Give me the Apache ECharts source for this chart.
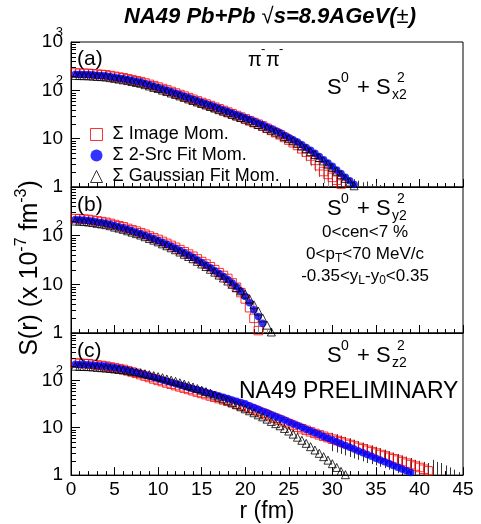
<!DOCTYPE html>
<html><head><meta charset="utf-8">
<script src="https://cdn.jsdelivr.net/npm/echarts@6/dist/echarts.min.js"></script>
<style>html,body{margin:0;padding:0;background:#fff}#c{width:481px;height:524px}</style>
</head><body><div id="c"></div>
<script>
// r bin positions (fm)
const R = [0.5,1,1.5,2,2.5,3,3.5,4,4.5,5,
5.5,6,6.5,7,7.5,8,8.5,9,9.5,10,
10.5,11,11.5,12,12.5,13,13.5,14,14.5,15,
15.5,16,16.5,17,17.5,18,18.5,19,19.5,20,
20.5,21,21.5,22,22.5,23,23.5,24,24.5,25,
25.5,26,26.5,27,27.5,28,28.5,29,29.5,30,
30.5,31,31.5,32,32.5,33,33.5,34,34.5,35,
35.5,36,36.5,37,37.5,38,38.5,39,39.5,40,
40.5,41,41.5,42,42.5,43,43.5,44,44.5];

const N_IMG = 'Σ Image Mom.';
const N_SRC = 'Σ 2-Src Fit Mom.';
const N_GAU = 'Σ Gaussian Fit Mom.';

// panel (a) S0 + Sx2
const A_IMG = [228,226,225,224,220,216,213,209,202,195,
188,182,174,166,158,151,142,133,125,117,
109,102,94.6,88.1,81.8,75.9,70.5,65.3,60.6,56.2,
52.2,48.4,44.8,41.5,38.4,35.5,32.7,30.2,27.9,25.7,
23.6,21.6,19.9,18.2,16.4,14.8,13.3,12.0,10.6,9.33,
8.22,7.24,6.17,5.25,4.37,3.55,2.75,2.09,1.82,1.58,
1.38,1.15];
const A_SRC = [215,214,213,212,209,206,203,200,194,187,
181,175,168,161,154,148,139,130,122,115,
107,100,93.3,87.1,81.1,75.5,70.2,65.3,60.8,56.6,
52.6,49.0,45.5,42.2,39.2,36.3,33.7,31.3,29.0,26.9,
24.8,22.8,20.9,19.3,17.5,16.0,14.5,13.2,11.8,10.6,
9.5,8.5,7.46,6.53,5.73,5.01,4.29,3.67,3.15,2.69,
2.26,1.91,1.60,1.35,1.12];
const A_GAU = [203,202,201,200,197,194,192,189,183,177,
171,165,159,152,145,140,131,123,115,109,
101,94.4,88.1,82.2,76.6,71.3,66.3,61.6,57.4,53.4,
49.7,46.3,43.0,39.8,37.0,34.3,31.8,29.4,27.4,25.4,
23.4,21.5,19.7,18.2,16.5,15.1,13.7,12.5,11.1,10.0,
9.0,8.0,7.05,6.2,5.4,4.7,4.05,3.46,2.97,2.54,
2.13,1.80,1.51,1.27,1.06];
const A_ERR = [[26,5,8.5],[26.5,4.2,7.5],[27,3.4,6.5],[27.5,2.7,5.7],[28,2.1,5],[28.5,1.6,4.3],
[29,1.2,3.7],[29.5,0.9,3.2],[30,0.7,2.8],[30.5,0.6,2.4],[31,0.5,2.0],[31.5,0.5,1.7],[32,0.5,1.5],
[32.5,0.5,1.45],[33,0.5,1.35],[33.5,0.5,1.25],[34,0.5,1.3],[34.5,0.5,1.15],[35,0.5,1.2],[35.5,0.5,1.1]];

// panel (b) S0 + Sy2
const B_IMG = [224,222,219,215,208,201,195,188,179,169,
160,152,141,132,124,115,107,98.2,90.8,83.8,
76.2,69.5,63.2,57.6,51.7,46.6,41.9,37.7,33.3,29.4,
26.1,23.0,20.0,17.4,15.2,13.2,10.7,8.71,6.76,5.01,
3.31,2.0,1.12];
const B_SRC = [214,212,209,205,199,192,186,180,171,161,
153,145,135,126,118,110,102,93.8,86.7,80.0,
72.8,66.4,60.4,55.0,49.4,44.5,40.0,36.0,31.8,28.1,
24.9,22.0,19.1,16.6,14.5,12.6,10.7,8.91,7.24,5.62,
4.17,3.02,2.19,1.58];
const B_GAU = [200,198,195,191,186,179,174,168,160,150,
143,135,126,118,110,103,95.2,87.5,80.9,74.6,
67.9,62.0,56.4,51.3,46.1,41.5,37.3,33.6,29.7,26.2,
23.2,20.4,17.8,15.5,13.5,11.7,10.0,8.5,7.33,6.31,
5.01,3.80,2.82,2.04,1.45,1.05];
const B_ERR = [[19.5,5.5,8.3],[20,3.8,6.5],[20.5,2.4,4.6],[21,1.3,3.0],[21.5,0.6,2.0],[22,0.5,1.4],[22.5,0.5,1.15]];

// panel (c) S0 + Sz2
const C_IMG = [232,229,226,224,218,211,206,200,192,184,
177,170,160,150,141,132,123,115,107,100,
94.0,88.1,82.8,77.6,72.9,68.4,64.3,60.3,56.6,53.1,
49.9,46.8,44.0,41.2,38.7,36.3,33.9,31.6,29.5,27.5,
25.6,23.7,22.0,20.4,18.7,17.2,15.8,14.5,13.3,12.2,
11.2,10.2,9.5,8.81,8.18,7.59,7.08,6.61,6.17,5.75,
5.38,5.05,4.72,4.42,4.12,3.85,3.59,3.35,3.13,2.92,
2.72,2.54,2.37,2.21,2.07,1.93,1.79,1.67,1.55,1.45,
1.33,1.23];
const C_SRC = [218,216,215,214,210,207,203,200,192,185,
178,172,163,154,146,138,130,122,115,108,
102,96.1,90.4,85.1,80.2,75.5,71.0,66.8,63.0,59.3,
55.7,52.5,49.4,46.6,43.8,41.2,38.6,36.3,34.0,31.9,
29.2,26.8,24.5,22.4,20.6,18.8,17.3,15.8,14.5,13.2,
12.1,11.1,10.2,9.31,8.53,7.81,7.16,6.55,6.0,5.50,
5.04,4.61,4.22,3.86,3.54,3.24,2.97,2.72,2.49,2.28,
2.09,1.91,1.75,1.60,1.47,1.35,1.23,1.13];
const C_GAU = [199,197,196,195,192,188,185,182,178,174,
170,166,160,155,150,145,138,132,126,120,
114,107,101,95.5,89.1,83.2,77.6,72.4,67.2,62.4,
57.9,53.7,49.0,44.7,40.7,37.2,33.7,30.5,27.7,25.1,
22.8,20.7,18.7,17.0,15.2,13.6,12.2,11.0,9.66,8.51,
7.33,6.31,5.43,4.68,3.98,3.39,2.88,2.45,2.07,1.74,
1.45,1.20,1.02];
const C_ERR = [[25,10.4,14.0],[25.5,9.5,12.9],[26,8.7,11.8],[26.5,8.0,11.0],[27,7.4,10.2],[27.5,6.8,9.6],
[28,6.3,8.9],[28.5,5.8,8.4],[29,5.4,7.9],[29.5,5.0,7.5],[30,3.2,7.8],[30.5,3.0,7.3],[31,2.8,6.8],
[31.5,2.6,6.4],[32,2.4,6.0],[32.5,2.25,5.6],[33,2.1,5.2],[33.5,1.95,4.85],[34,1.8,4.5],[34.5,1.7,4.25],
[35,1.6,3.95],[35.5,1.5,3.7],[36,1.4,3.45],[36.5,1.3,3.2],[37,1.2,3.0],[37.5,1.1,2.8],[38,1.05,2.6],
[38.5,0.95,2.45],[39,0.9,2.3],[39.5,0.85,2.1],[40,0.8,2.0],[40.5,0.7,1.9],[41,0.65,1.8],[41.5,0.5,2.1],
[42,0.5,1.9],[42.5,0.5,1.8],[43,0.5,1.6],[43.5,0.5,1.45],[44,0.5,1.3],[44.5,0.5,1.15]];

// log-axis minor tick values
const Y_MINOR = [2,3,4,5,6,7,8,9,20,30,40,50,60,70,80,90,200,300,400,500,600,700,800,900];

const FF = '"Liberation Sans", Arial, Helvetica, sans-serif';
const pair = vals => vals.map((v, i) => [R[i], v]);

const GRIDS = [{top: 42, height: 145}, {top: 187, height: 146}, {top: 333, height: 145}];

function errRender(params, api) {
  const x = api.value(0), lo = api.value(1), hi = api.value(2);
  const a = api.coord([x, lo]), b = api.coord([x, hi]);
  const xx = Math.round(a[0]) + 0.5;
  return {type: 'line', shape: {x1: xx, y1: a[1], x2: xx, y2: b[1]},
    style: {stroke: x < 30 ? '#8a8a8a' : '#333', lineWidth: 1}};
}
function tickRender(params, api) {
  const p = api.coord([0, api.value(1)]);
  const y = Math.round(p[1]) + 0.5;
  return {type: 'line', shape: {x1: p[0], y1: y, x2: p[0] + 5, y2: y}, style: {stroke: '#000', lineWidth: 1}};
}

function yLab(showTop) {
  return function (v) {
    if (Math.abs(v - 1) < 1e-6) return '1';
    if (Math.abs(v - 10) < 1e-5) return '10';
    if (Math.abs(v - 100) < 1e-4) return '{b|10}{s|  2}';
    if (Math.abs(v - 1000) < 1e-3) return showTop ? '{b|10}{s|  3}' : '';
    return '';
  };
}

const grid = GRIDS.map(g => ({left: 71, width: 392, top: g.top, height: g.height, show: true,
  borderColor: '#000', borderWidth: 1, backgroundColor: 'transparent'}));

const xAxis = GRIDS.map((g, i) => ({
  gridIndex: i, type: 'value', min: 0, max: 45, interval: 5,
  axisLine: {show: true, onZero: false, lineStyle: {color: '#000', width: 1}},
  axisTick: {show: true, inside: true, length: 8, lineStyle: {color: '#000'}},
  minorTick: {show: true, splitNumber: 5, length: 4, lineStyle: {color: '#000'}},
  splitLine: {show: false},
  axisLabel: {show: i === 2, fontFamily: FF, fontSize: 19, color: '#000', margin: 5},
  name: i === 2 ? 'r (fm)' : '', nameLocation: 'middle', nameGap: 21,
  nameTextStyle: {fontFamily: FF, fontSize: 23, color: '#000'}
}));

const yAxis = GRIDS.map((g, i) => ({
  gridIndex: i, type: 'log', logBase: 10, min: 1, max: 1000,
  axisLine: {show: true, onZero: false, lineStyle: {color: '#000', width: 1}},
  axisTick: {show: true, inside: true, length: 9, lineStyle: {color: '#000'}},
  splitLine: {show: false},
  axisLabel: {fontFamily: FF, fontSize: 19, color: '#000', margin: 8, formatter: yLab(i === 0),
    rich: {b: {fontFamily: FF, fontSize: 19, color: '#000'},
           s: {fontFamily: FF, fontSize: 13, color: '#000', width: 0, padding: [0, 0, 20, 0]}}}
}));

function panelSeries(i, img, src, gau, err) {
  return [
    {type: 'custom', xAxisIndex: i, yAxisIndex: i, clip: true, silent: true, z: 1,
      data: err, renderItem: errRender},
    {type: 'scatter', name: N_IMG, xAxisIndex: i, yAxisIndex: i, z: 2, data: pair(img),
      symbol: 'rect', symbolSize: 8.5,
      itemStyle: {color: 'rgba(255,255,255,0)', borderColor: '#ff0000', borderWidth: 1}},
    {type: 'scatter', name: N_SRC, xAxisIndex: i, yAxisIndex: i, z: 3, data: pair(src),
      symbol: 'circle', symbolSize: 7.5, itemStyle: {color: '#0000ff'}},
    {type: 'scatter', name: N_GAU, xAxisIndex: i, yAxisIndex: i, z: 4, data: pair(gau),
      symbol: 'triangle', symbolSize: 8,
      itemStyle: {color: 'rgba(255,255,255,0)', borderColor: '#000', borderWidth: 1}},
    {type: 'custom', xAxisIndex: i, yAxisIndex: i, clip: false, silent: true, z: 6,
      data: Y_MINOR.map(v => [0, v]), renderItem: tickRender}
  ];
}

function txt(x, y, text, size, extra) {
  return Object.assign({type: 'text', x: x, y: y, silent: true, z: 100,
    style: Object.assign({text: text, fontFamily: FF, fontSize: size, fill: '#000',
      align: 'left', verticalAlign: 'middle', textAlign: 'left', textVerticalAlign: 'middle'}, (extra && extra.style) || {})},
    (extra && extra.el) || {});
}
function sLabel(y0, sub) {
  return [
    txt(327, y0, 'S', 22),
    txt(341, y0 - 10, '0', 14),
    txt(357, y0, '+ S', 22),
    txt(397, y0 - 10, '2', 14),
    txt(392, y0 + 7, sub + '2', 14)
  ];
}
const centerStyle = {align: 'center', textAlign: 'center'};
const richBase = {m: {fontFamily: FF, fontSize: 17, fill: '#000'},
                  s: {fontFamily: FF, fontSize: 12, fill: '#000', padding: [10, 0, 0, 0]}};

const graphic = [
  {type: 'text', x: 270, y: 17, silent: true, style: {
    text: '{b|NA49 Pb+Pb }{n|√}{b|s=8.9AGeV(}{n|±}{b|)}',
    align: 'center', verticalAlign: 'middle', textAlign: 'center', textVerticalAlign: 'middle',
    rich: {b: {fontFamily: FF, fontSize: 22, fontWeight: 'bold', fontStyle: 'italic', fill: '#000'},
           n: {fontFamily: FF, fontSize: 22, fill: '#000'}}}},
  txt(77, 59, '(a)', 21), txt(77, 205, '(b)', 21), txt(77, 351, '(c)', 21),
  txt(248, 60, 'π', 20), txt(261, 49, '-', 13), txt(266, 60, 'π', 20), txt(279, 49, '-', 13),
  ...sLabel(88, 'x'), ...sLabel(209, 'y'), ...sLabel(356, 'z'),
  txt(365, 232, '0<cen<7 %', 17, {style: centerStyle}),
  {type: 'text', x: 365, y: 254, silent: true, style: {text: '{m|0<p}{s|T}{m|<70 MeV/c}',
    align: 'center', verticalAlign: 'middle', textAlign: 'center', textVerticalAlign: 'middle', rich: richBase}},
  {type: 'text', x: 365, y: 276, silent: true, style: {text: '{m|-0.35<y}{s|L}{m|-y}{s|0}{m|<0.35}',
    align: 'center', verticalAlign: 'middle', textAlign: 'center', textVerticalAlign: 'middle', rich: richBase}},
  txt(239, 392, 'NA49 PRELIMINARY', 23),
  {type: 'text', x: 30, y: 268, rotation: Math.PI / 2, silent: true, style: {
    text: '{m|S(r) (x 10}{s|-7}{m| fm}{s|-3}{m|)}',
    align: 'center', verticalAlign: 'middle', textAlign: 'center', textVerticalAlign: 'middle',
    rich: {m: {fontFamily: FF, fontSize: 25, fill: '#000'},
           s: {fontFamily: FF, fontSize: 16, fill: '#000', padding: [0, 0, 16, 0]}}}}
];

const chart = echarts.init(document.getElementById('c'), null, {renderer: 'canvas'});
chart.setOption({
  animation: false,
  backgroundColor: '#fff',
  grid: grid,
  xAxis: xAxis,
  yAxis: yAxis,
  legend: {
    orient: 'vertical', left: 85, top: 119, itemWidth: 12, itemHeight: 12, itemGap: 0,
    selectedMode: false, formatter: n => ' ' + n,
    textStyle: {fontFamily: FF, fontSize: 18, color: '#000', lineHeight: 21},
    data: [
      {name: N_IMG, icon: 'rect', itemStyle: {color: 'rgba(255,255,255,0)', borderColor: '#ff0000', borderWidth: 1}},
      {name: N_SRC, icon: 'circle', itemStyle: {color: '#0000ff', borderWidth: 0}},
      {name: N_GAU, icon: 'triangle', itemStyle: {color: 'rgba(255,255,255,0)', borderColor: '#000', borderWidth: 1}}
    ]
  },
  series: [].concat(
    panelSeries(0, A_IMG, A_SRC, A_GAU, A_ERR),
    panelSeries(1, B_IMG, B_SRC, B_GAU, B_ERR),
    panelSeries(2, C_IMG, C_SRC, C_GAU, C_ERR)
  ),
  graphic: graphic
});
</script>
</body></html>
